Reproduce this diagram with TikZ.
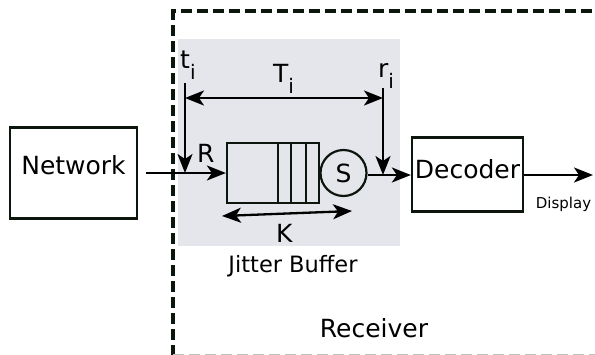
\documentclass[tikz,border=0pt]{standalone}
\usepackage{fontspec}
\setmainfont{DejaVu Sans}
\usetikzlibrary{arrows.meta}
\definecolor{bufgray}{RGB}{228,230,235}
\definecolor{dkline}{RGB}{12,22,12}
\newcommand\subi{\raisebox{-11.5pt}{\fontsize{20}{20}\selectfont i}}
\begin{document}
\begin{tikzpicture}[x=1pt,y=-1pt,
  big/.style={font=\fontsize{25}{30}\selectfont},
  box/.style={draw=dkline, line width=2.2pt, rectangle, inner sep=0pt},
  conn/.style={line width=2.3pt, -{Stealth[length=19pt,width=15pt,inset=5pt]}},
  dconn/.style={line width=2.3pt, {Stealth[length=19pt,width=15pt,inset=5pt]}-{Stealth[length=19pt,width=15pt,inset=5pt]}},
  lab/.style={big, anchor=base west, inner sep=0pt}
  ]
\useasboundingbox (0,0) rectangle (595,354);
\clip (0,0) rectangle (595,354);
% jitter buffer background
\fill[bufgray] (178,39) rectangle (400,246);
% receiver boundary
\draw[dkline, line width=3.5pt, dash pattern=on 11pt off 5pt] (173,355.5) -- (173,11) -- (620,11);
\draw[black!25, line width=3pt, dash pattern=on 11pt off 5pt] (173,355.5) -- (620,355.5);

% nodes
\node[box, big, minimum width=127pt, minimum height=91pt, text height=18pt, text depth=15pt] (net) at (73.5,173) {Network};
\node[box, minimum width=92pt, minimum height=60pt] (buf) at (273,173) {};
\draw[dkline, line width=2.2pt] (278,143) -- (278,203) (291,143) -- (291,203) (306,143) -- (306,203);
\node[draw=dkline, line width=2.2pt, circle, minimum size=46pt, inner sep=0pt, big, text height=19pt, text depth=0pt] (S) at (343.5,173) {S};
\node[box, big, minimum width=111pt, minimum height=74pt, text height=18pt, text depth=10pt] (dec) at (467.5,174.5) {Decoder};

% coordinates
\coordinate (ttop) at (185,83);
\coordinate (rtop) at (383,88);
\coordinate (Tl) at (185,98);
\coordinate (Tr) at (383,98);
\coordinate (Kl) at (222,216);
\coordinate (Kr) at (352,211);
\coordinate (disp) at (593,175);

% connectors
\draw[conn] ([xshift=8pt]net.east) -- (buf.west);
\draw[conn] ([yshift=-2pt]S.east) -- ([yshift=-2pt]S.east -| dec.west);
\draw[conn] (dec.east |- disp) -- (disp);
\draw[conn] (ttop) -- (ttop |- buf.west);
\draw[conn] (rtop) -- ([yshift=-2pt]rtop |- S.east);
\draw[dconn] (Tl) -- (Tr);
\draw[dconn] (Kl) -- (Kr);

% labels
\node[lab] (tlab) at (180,68) {t\subi};
\node[lab] (Tlab) at (273,82) {T\subi};
\node[lab] (rlab) at (378,77) {r\subi};
\node[lab] (Rlab) at (197,162) {R};
\node[lab] (Klab) at (276,242) {K};
\node[font=\fontsize{22.5}{27}\selectfont, anchor=base, inner sep=0pt] (jb) at (293,272) {Jitter Buffer};
\node[big, anchor=base, inner sep=0pt] (rec) at (374,337) {Receiver};
\node[font=\fontsize{15}{18}\selectfont, anchor=base, inner sep=0pt] (dl) at (563.5,208) {Display};
\end{tikzpicture}
\end{document}
